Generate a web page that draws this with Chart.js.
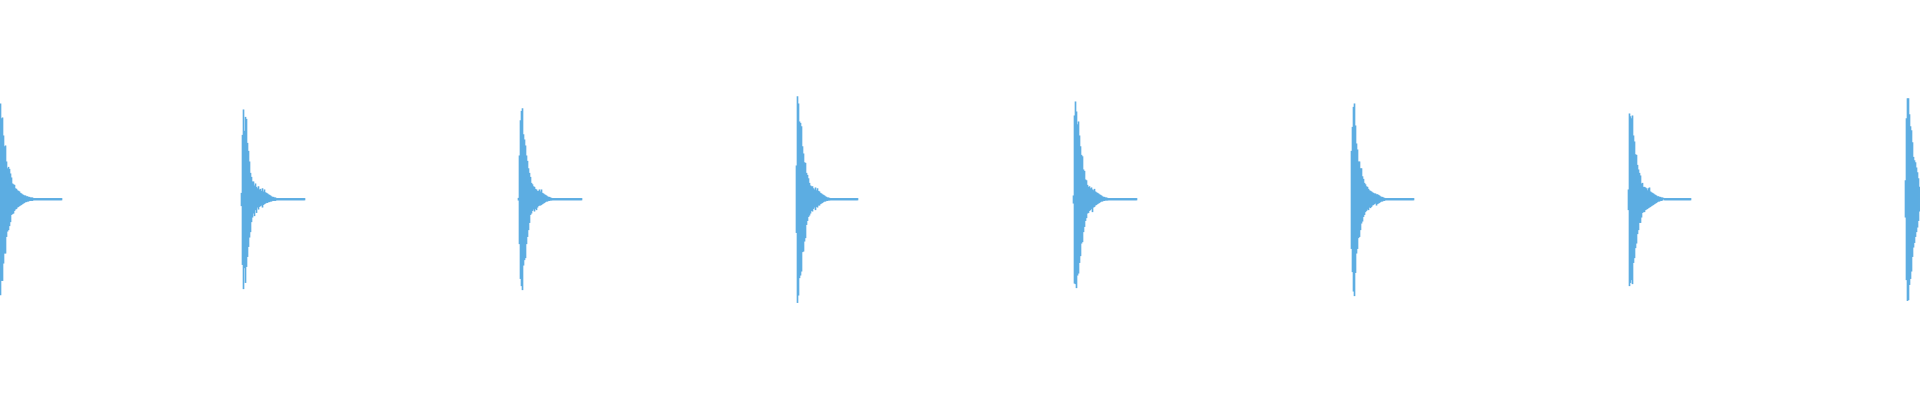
<!DOCTYPE html>
<html>
<head>
<meta charset="utf-8">
<script src="https://cdn.jsdelivr.net/npm/chart.js@4/dist/chart.umd.min.js"></script>
<style>
  html, body { margin: 0; padding: 0; background: #ffffff; overflow: hidden; }
  #wrap { position: relative; width: 1920px; height: 400px; }
</style>
</head>
<body>
<div id="wrap"><canvas id="c"></canvas></div>
<script>
// Total number of samples (one per column of the waveform)
const sampleCount = 1920;

// Onset sample of each hit, and the sample where its quiet tail ends
const onsets   = [0, 241, 518, 796, 1073, 1351, 1628, 1905];
const tailEnds = [62, 305, 582, 858, 1137, 1414, 1691, 1920];

// Residual level of the quiet tail after each hit
const tailLevel = 0.4;

// Peak amplitude above zero (top) and below zero (bottom), per sample after onset
const burst1Top = [47.7,40.3,40.7,31.7,26.3,26.7,18.7,15.3,16,15,12.7,10.7,7.7,7.3,7,5.3,5,4.3,4,3.7,3,2.7,2.3,2,1.7,1.7,1.3,1.3,1,1,0.7,0.7,0.7];
const burst1Bot = [47.8,40.7,40.7,32,27,27,18.7,16,15.3,13.3,11.3,7.7,7.3,7,5.7,5,4.7,4,3.7,3.3,3,2.7,2.3,2,1.7,1.3,1.3,1,1,0.7,0.7,0.7,0.7];

const burst2Top = [3,32,44.7,34,41,40,28,24,18.7,13,11,8.7,8.7,6.7,7.7,6,5.3,6.3,4.7,5,4,5.3,3.7,4.7,3.3,3,2.7,2.3,2,1.7,1.3,1,1,0.7,0.7];
const burst2Bot = [3.3,32.7,44.8,34.3,41.7,33.7,28.7,23.7,19,16.3,11.3,9,7,8.3,5.3,6.7,4,5,3.7,3.3,3,4,2.7,2.3,2,1.7,1.7,1.3,1.3,1,1,0.7,0.7,0.7,0.7];

const burst3Top = [0.5,21.7,39.3,44,45.3,32.3,29.7,26.7,21.7,19,15.3,13,11,8,7.3,6.3,6,5,4.7,4,4,4.7,3.7,4.7,3,2.7,2.3,2,1.7,1.3,1,1,0.7,0.5];
const burst3Bot = [0.5,22.3,39.7,43.3,45.3,33,30.3,29.3,22.3,18.7,15.3,11.7,7.7,7,5.7,5,6,4.7,5.3,4,3.3,3,3,2.7,2.3,2,1.7,1.3,1,1,0.7,0.7,0.5,0.5];

const burst4Top = [16.7,51.3,47.7,38.7,38,36.3,26.3,22.7,18.3,18,13,12,10.3,8,6.7,6.3,6.3,5.3,4.7,5.7,4.3,5.3,4,3.7,3,2.7,2.3,2,1.7,1.3,1,0.7,0.7,0.5];
const burst4Bot = [16.7,51.7,48,39.3,38,36,26.3,26,21,19.3,12.7,10.7,8.7,8,7,5.7,6,4.7,4,5.3,3.7,4,3,3,2.3,2,1.7,1.3,1,1,0.7,0.7,0.5,0.5];

const burst5Top = [1.7,41.7,48.7,43.7,37.3,38.7,31.7,26.3,22,21.3,14.7,14,9.7,9.3,7,6,6.3,5.3,5.7,4.7,4.3,5,3.7,3.3,3,2.7,2.3,2,1.7,1.3,1,1,0.7,0.7,0.5];
const burst5Bot = [2,42,42.3,44.3,38,37,31.7,28.3,22,21.3,16.3,13.7,10.7,9.3,7,6.7,5.7,5.3,4.7,6.3,4,3.7,3,2.7,2.3,2,1.7,1.3,1,1,0.7,0.7,0.5,0.5,0.5];

const burst6Top = [24,36,46,47.7,36.7,27.7,24.7,18.7,18.7,15.3,15.3,11.3,10,8,7.3,6.3,6,5,4.3,4,3.7,3.3,3,2.7,2.7,2.3,2.3,2,1.7,1.3,1,1,0.7,0.5];
const burst6Bot = [24.7,36.3,46,48.3,36.7,27,24.7,19.3,18.7,15.3,12,11,8.7,7.7,6.3,5.7,5,5.3,4,4.3,3.7,3,2.7,2.3,2,3,2.3,2,1.7,1.3,1,1,0.7,0.7,0.5];

const burst7Top = [4.7,42.7,41.3,40.3,41.7,31.7,28.7,22.3,22,17,14.7,13,11.7,7.7,8,6,6,5.7,5.3,4.3,5.3,5.7,3.7,3.3,3,2.7,2.3,2,1.7,1.3,1.3,1,1,0.7,0.7,0.5];
const burst7Bot = [5.3,43.3,41.7,40.3,42.3,31.7,29.3,24.3,22,17.3,15.3,11.7,11.7,9,6.7,6.3,6.3,5.3,5,4.7,4.3,4,3.7,3.3,3,2.7,2.3,2,1.7,1.3,1,1,0.7,0.7,0.5];

const burst8Top = [9.3,40.3,50.3,50.3,42.3,36.3,34.3,28.3,21,19.3,18.3,15.7,13.3,10.3,6];
const burst8Bot = [9,40.3,50.7,50.3,42.7,39.7,36,28.7,24,21.7,18.7,16.3,14,10.7,6];

const burstTops = [burst1Top, burst2Top, burst3Top, burst4Top, burst5Top, burst6Top, burst7Top, burst8Top];
const burstBots = [burst1Bot, burst2Bot, burst3Bot, burst4Bot, burst5Bot, burst6Bot, burst7Bot, burst8Bot];

// Assemble the floating-bar table [low, high] per sample (null = silence)
const sampleIndex = [];
const samples = [];
for (let i = 0; i < sampleCount; i++) { sampleIndex.push(i); samples.push(null); }
for (let b = 0; b < onsets.length; b++) {
  const top = burstTops[b], bot = burstBots[b];
  for (let s = onsets[b]; s < Math.min(tailEnds[b], sampleCount); s++) {
    const k = s - onsets[b];
    if (k < top.length) samples[s] = [-bot[k], top[k]];
    else samples[s] = [-tailLevel, tailLevel];
  }
}

new Chart(document.getElementById('c'), {
  type: 'bar',
  data: {
    labels: sampleIndex,
    datasets: [{
      data: samples,
      backgroundColor: '#5DADE2',
      borderWidth: 0,
      borderSkipped: false,
      barPercentage: 1.0,
      categoryPercentage: 1.0
    }]
  },
  options: {
    responsive: true,
    maintainAspectRatio: false,
    devicePixelRatio: 1,
    animation: false,
    layout: { padding: 0 },
    plugins: { legend: { display: false }, tooltip: { enabled: false } },
    scales: {
      x: { display: false, offset: true, grid: { display: false } },
      y: { display: false, min: -100.4, max: 99.6, grid: { display: false } }
    }
  }
});
</script>
</body>
</html>
